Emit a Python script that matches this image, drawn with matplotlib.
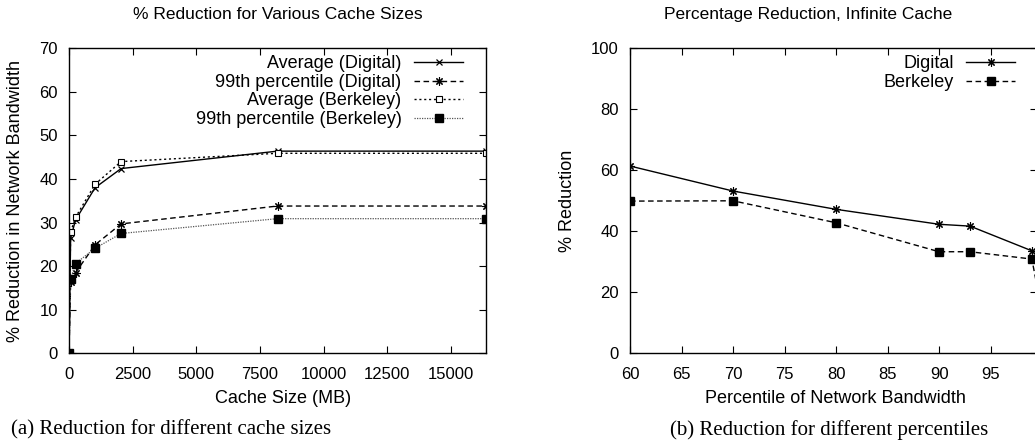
import matplotlib
matplotlib.use("Agg")
import matplotlib.pyplot as plt

plt.rcParams['font.family'] = ['Liberation Sans', 'DejaVu Sans']

# Panel (a): reduction vs cache size
cache_mb = [0, 64, 256, 1024, 2048, 8192, 16384]
avg_digital = [0, 26.4, 30.6, 38.0, 42.4, 46.4, 46.4]
p99_digital = [0, 16.3, 18.5, 24.9, 29.7, 33.8, 33.8]
avg_berkeley = [0, 27.8, 31.2, 38.8, 44.0, 45.9, 45.9]
p99_berkeley = [0, 17.1, 20.6, 24.1, 27.5, 30.9, 30.9]
cache_ticks = [0, 2500, 5000, 7500, 10000, 12500, 15000]
reduction_ticks_a = [0, 10, 20, 30, 40, 50, 60, 70]

# Panel (b): reduction vs percentile, infinite cache
pct_digital = [60, 70, 80, 90, 93, 99]
red_digital = [61.4, 53.2, 47.2, 42.3, 41.7, 33.6]
pct_berkeley = [60, 70, 80, 90, 93, 99, 99.9]
red_berkeley = [49.9, 50.0, 42.8, 33.3, 33.3, 30.9, 15.0]
pct_ticks = [60, 65, 70, 75, 80, 85, 90, 95]
reduction_ticks_b = [0, 20, 40, 60, 80, 100]

W, H = 1035, 448
fig = plt.figure(figsize=(W / 100, H / 100), dpi=100)

TICK_FS = 12
LABEL_FS = 13


def px_axes(x0, x1, ytop, ybot):
    return fig.add_axes([x0 / W, 1 - ybot / H, (x1 - x0) / W, (ybot - ytop) / H])


def style(ax):
    ax.tick_params(direction='in', length=5, width=0.8, top=True, right=True,
                   labelsize=TICK_FS, colors='black')
    ax.tick_params(axis='y', pad=8)
    ax.tick_params(axis='x', pad=10)
    for s in ax.spines.values():
        s.set_linewidth(1.0)


star = (8, 2, 0)

ax1 = px_axes(69, 486, 48.3, 353.3)
ax1.plot(cache_mb, avg_digital, color='black', lw=1.0, ls='-', marker='x',
         ms=5, mew=0.9, label='Average (Digital)')
ax1.plot(cache_mb, p99_digital, color='black', lw=1.0, ls=(0, (4, 2.5)), marker=star,
         ms=6, mew=0.8, label='99th percentile (Digital)')
ax1.plot(cache_mb, avg_berkeley, color='black', lw=1.0, ls=(0, (1.5, 2)), marker='s',
         ms=5, mew=0.8, mfc='white', label='Average (Berkeley)')
ax1.plot(cache_mb, p99_berkeley, color='#555555', lw=0.9, ls=(0, (1, 1)), marker='s',
         ms=6, mfc='black', mec='black', label='99th percentile (Berkeley)')
ax1.set_xlim(0, 16384)
ax1.set_ylim(0, 70)
ax1.set_xticks(cache_ticks)
ax1.set_yticks(reduction_ticks_a)
style(ax1)
ax1.set_xlabel('Cache Size (MB)', fontsize=LABEL_FS)
ax1.xaxis.set_label_coords((283 - 69) / (486 - 69), -(398 - 353.3) / 305, transform=ax1.transAxes)
ax1.set_ylabel('% Reduction in Network Bandwidth', fontsize=LABEL_FS)
ax1.yaxis.set_label_coords(-(69 - 16) / (486 - 69), 0.5)
ax1.xaxis.label.set_va('center')
ax1.yaxis.label.set_va('center')
ax1.set_title('% Reduction for Various Cache Sizes', fontsize=12.5, pad=21)
ax1.legend(loc='upper right', bbox_to_anchor=(463 / W, 1 - 55.5 / H),
           bbox_transform=fig.transFigure, frameon=False, markerfirst=False,
           fontsize=LABEL_FS, handlelength=2.7, handletextpad=0.7,
           labelspacing=0.08, borderpad=0, borderaxespad=0, numpoints=1)

x2l, x2r = 630, 1036.5
ax2 = px_axes(x2l, x2r, 48.3, 353.3)
ax2.plot(pct_digital, red_digital, color='black', lw=1.0, ls='-', marker=star,
         ms=6, mew=0.8, label='Digital')
ax2.plot(pct_berkeley, red_berkeley, color='black', lw=1.0, ls=(0, (4, 2.5)), marker='s',
         ms=6, label='Berkeley')
ax2.set_xlim(60, 99.45)
ax2.set_ylim(0, 100)
ax2.set_xticks(pct_ticks)
ax2.set_yticks(reduction_ticks_b)
style(ax2)
ax2.set_xlabel('Percentile of Network Bandwidth', fontsize=LABEL_FS)
ax2.xaxis.set_label_coords((835 - x2l) / (x2r - x2l), -(398 - 353.3) / 305, transform=ax2.transAxes)
ax2.set_ylabel('% Reduction', fontsize=LABEL_FS)
ax2.yaxis.set_label_coords(-(x2l - 568) / (x2r - x2l), 0.5)
ax2.xaxis.label.set_va('center')
ax2.yaxis.label.set_va('center')
ax2.set_title('Percentage Reduction, Infinite Cache', fontsize=12.5, pad=21,
              x=(808 - x2l) / (x2r - x2l))
ax2.legend(loc='upper right', bbox_to_anchor=(1015 / W, 1 - 55.5 / H),
           bbox_transform=fig.transFigure, frameon=False, markerfirst=False,
           fontsize=LABEL_FS, handlelength=2.7, handletextpad=0.7,
           labelspacing=0.08, borderpad=0, borderaxespad=0, numpoints=1)

# Sub-figure captions
fig.text(171 / W, 1 - 430 / H, '(a) Reduction for different cache sizes',
         ha='center', va='center', fontsize=15, family='Liberation Serif')
fig.text(829 / W, 1 - 430 / H, '(b) Reduction for different percentiles',
         ha='center', va='center', fontsize=15, family='Liberation Serif')

fig.savefig('out.png', dpi=100)
